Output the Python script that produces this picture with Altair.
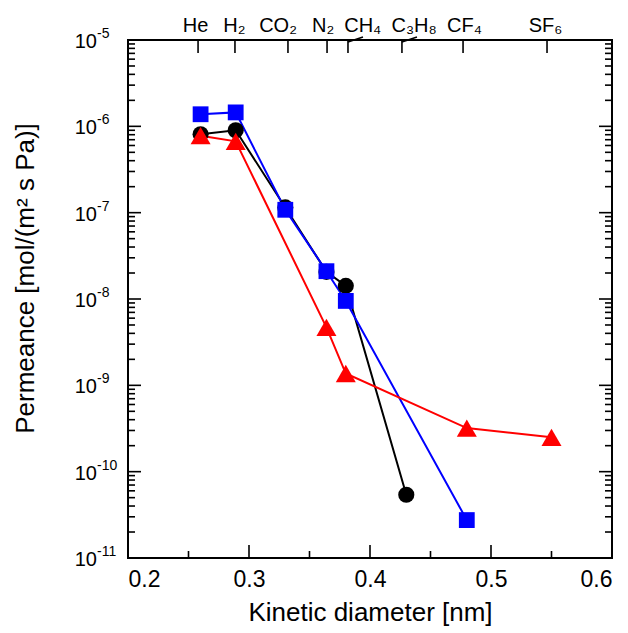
import altair as alt
import pandas as pd

# Permeance of single gases through three membranes vs. kinetic diameter
diam_m300 = [0.26, 0.289, 0.33, 0.364, 0.38, 0.43]
perm_m300 = [8.1e-7, 9.0e-7, 1.15e-7, 2.06e-8, 1.42e-8, 5.4e-11]

diam_m550 = [0.26, 0.289, 0.33, 0.364, 0.38, 0.48]
perm_m550 = [1.38e-6, 1.45e-6, 1.08e-7, 2.1e-8, 9.5e-9, 2.75e-11]

diam_m700 = [0.26, 0.289, 0.364, 0.38, 0.48, 0.55]
perm_m700 = [7.8e-7, 6.7e-7, 4.7e-9, 1.37e-9, 3.2e-10, 2.5e-10]

series_names = ["M300", "M550", "M700"]
series_colors = ["#000000", "#0000ff", "#ff0000"]
series_shapes = ["circle", "square", "triangle-up"]
marker_area = {"M300": 260, "M550": 250, "M700": 400}

# gases on the top axis: tick position and where the label text sits
gas_names = ["He", "H₂", "CO₂", "N₂", "CH₄", "C₃H₈", "CF₄", "SF₆"]
gas_tick_x = [0.2579, 0.2884, 0.3322, 0.3645, 0.3818, 0.4264, 0.4769, 0.5463]
gas_label_x = [0.2558, 0.2880, 0.3240, 0.3612, 0.3940, 0.4365, 0.4780, 0.5450]
hooked_gases = ["CH₄", "C₃H₈"]

x_ticks_major = [0.3, 0.4, 0.5]
x_ticks_minor = [0.25, 0.35, 0.45, 0.55]
decades = list(range(-11, -4))

W, H = 484, 518
FONT = "Liberation Sans"

rows = []
for name, xs, ys in [("M300", diam_m300, perm_m300),
                     ("M550", diam_m550, perm_m550),
                     ("M700", diam_m700, perm_m700)]:
    for xv, yv in zip(xs, ys):
        rows.append({"series": name, "d": xv, "p": yv, "area": marker_area[name]})
df = pd.DataFrame(rows)

x_scale = alt.Scale(domain=[0.2, 0.6], nice=False, zero=False)
y_scale = alt.Scale(type="log", domain=[1e-11, 1e-5], nice=False)
color_scale = alt.Scale(domain=series_names, range=series_colors)
shape_scale = alt.Scale(domain=series_names, range=series_shapes)

x_enc = alt.X("d:Q", scale=x_scale,
              axis=alt.Axis(title="Kinetic diameter [nm]", values=[0.2, 0.3, 0.4, 0.5, 0.6],
                            format=".1f", ticks=False, domain=False, grid=False,
                            labelFontSize=23, labelPadding=10, labelColor="black",
                            titleFontSize=26, titleFontWeight="normal", titlePadding=8,
                            titleColor="black", labelFont=FONT, titleFont=FONT))
y_enc = alt.Y("p:Q", scale=y_scale,
              axis=alt.Axis(title="Permeance [mol/(m² s Pa)]", labels=False, ticks=False,
                            domain=False, grid=False, titleFontSize=26,
                            titleFontWeight="normal", titleColor="black", titleFont=FONT,
                            titleAngle=270, titleAlign="center", titleBaseline="middle",
                            titleX=-103, titleY=238))

lines = alt.Chart(df).mark_line(strokeWidth=2).encode(
    x=x_enc, y=y_enc,
    color=alt.Color("series:N", scale=color_scale, legend=None),
    detail="series:N",
)

points = alt.Chart(df).mark_point(filled=True, opacity=1).encode(
    x=alt.X("d:Q", scale=x_scale),
    y=alt.Y("p:Q", scale=y_scale),
    color=alt.Color("series:N", scale=color_scale,
                    legend=alt.Legend(title=None, orient="none", legendX=343, legendY=56,
                                      labelFontSize=20, labelFont=FONT, labelColor="black",
                                      symbolSize=250, symbolStrokeWidth=0, rowPadding=1,
                                      labelOffset=8)),
    shape=alt.Shape("series:N", scale=shape_scale),
    size=alt.Size("area:Q", scale=None),
)

# plot frame
frame = alt.Chart(pd.DataFrame({"f": [0]})).mark_rect(
    fillOpacity=0, stroke="black", strokeWidth=2).encode(
    x=alt.value(0), x2=alt.value(W), y=alt.value(0), y2=alt.value(H))

# inward tick marks on all four sides
y_major = pd.DataFrame({"v": [10.0 ** k for k in decades[1:-1]]})
y_minor = pd.DataFrame({"v": [m * 10.0 ** k for k in decades[:-1] for m in range(2, 10)]})


def y_ticks(data, length):
    left = alt.Chart(data).mark_rule(color="black", strokeWidth=1.6).encode(
        y=alt.Y("v:Q", scale=y_scale), x=alt.value(0), x2=alt.value(length))
    right = alt.Chart(data).mark_rule(color="black", strokeWidth=1.6).encode(
        y=alt.Y("v:Q", scale=y_scale), x=alt.value(W), x2=alt.value(W - length))
    return left + right


def x_ticks(values, length):
    return alt.Chart(pd.DataFrame({"v": values})).mark_rule(color="black", strokeWidth=1.6).encode(
        x=alt.X("v:Q", scale=x_scale), y=alt.value(H), y2=alt.value(H - length))


gas_df = pd.DataFrame({"gas": gas_names, "tx": gas_tick_x, "lx": gas_label_x})

top_ticks = alt.Chart(gas_df).mark_rule(color="black", strokeWidth=1.6).encode(
    x=alt.X("tx:Q", scale=x_scale), y=alt.value(0), y2=alt.value(13))

hooks = alt.Chart(gas_df[gas_df["gas"].isin(hooked_gases)]).mark_rule(
    color="black", strokeWidth=1.4).encode(
    x=alt.X("tx:Q", scale=x_scale), x2=alt.X2("hx:Q"), y=alt.value(2), y2=alt.value(-3)
).transform_calculate(hx="datum.tx + 0.0124")

gas_labels = alt.Chart(gas_df).mark_text(
    fontSize=20, font=FONT, color="black", baseline="alphabetic", align="center"
).encode(x=alt.X("lx:Q", scale=x_scale), y=alt.value(-8), text="gas:N")

# decade labels on the y axis: "10" with a raised exponent
dec_df = pd.DataFrame({"v": [10.0 ** k for k in decades],
                       "base": ["10"] * len(decades),
                       "exp": [str(k) for k in decades]})
dec_base = alt.Chart(dec_df).mark_text(
    fontSize=20, font=FONT, color="black", align="right", baseline="middle", dy=2
).encode(y=alt.Y("v:Q", scale=y_scale), x=alt.value(-31), text="base:N")
dec_exp = alt.Chart(dec_df).mark_text(
    fontSize=14, font=FONT, color="black", align="left", baseline="middle", dy=-6
).encode(y=alt.Y("v:Q", scale=y_scale), x=alt.value(-31), text="exp:N")

chart = alt.layer(
    frame,
    y_ticks(y_major, 13), y_ticks(y_minor, 7),
    x_ticks(x_ticks_major, 13), x_ticks(x_ticks_minor, 7),
    top_ticks, hooks, gas_labels, dec_base, dec_exp,
    lines, points,
).properties(
    width=W, height=H,
    autosize=alt.AutoSizeParams(type="none"),
    padding={"left": 128, "top": 40, "right": 16, "bottom": 75},
).configure_view(
    stroke=None
).configure(background="white")

chart.save("out.html", embed_options={"renderer": "svg", "actions": False})
